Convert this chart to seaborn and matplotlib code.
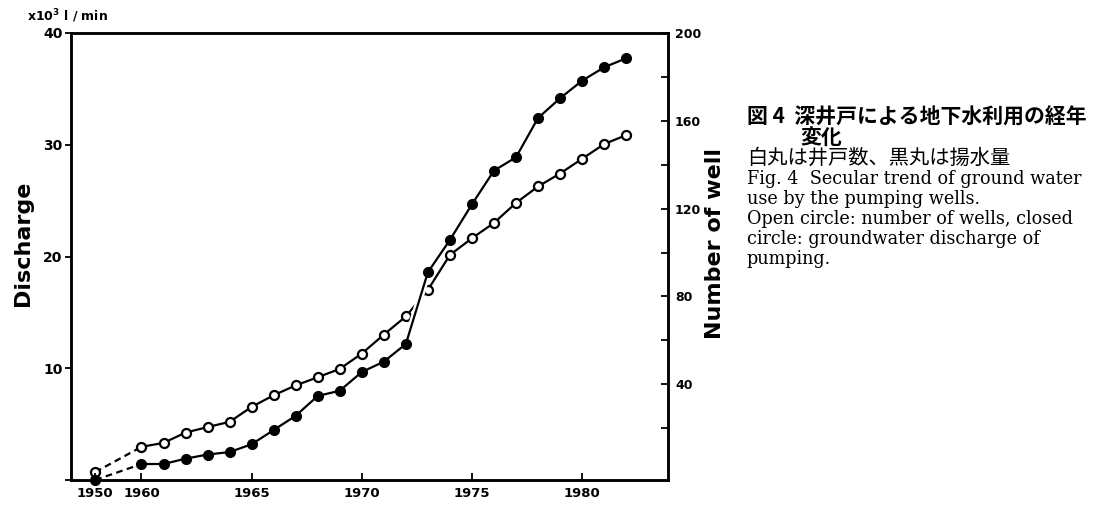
import numpy as np
import pandas as pd
import matplotlib
matplotlib.use("Agg")
import matplotlib.pyplot as plt
import matplotlib.patheffects as pe
from matplotlib.ticker import FixedLocator
import seaborn as sns

# data
years = [1950, 1960, 1961, 1962, 1963, 1964, 1965, 1966, 1967, 1968, 1969, 1970,
         1971, 1972, 1973, 1974, 1975, 1976, 1977, 1978, 1979, 1980, 1981, 1982]
# closed circles, x10^3 l/min (left axis)
discharge = [0, 1.43, 1.43, 1.91, 2.28, 2.5, 3.2, 4.47, 5.75, 7.52, 7.99, 9.66,
             10.59, 12.17, 18.59, 21.48, 24.67, 27.68, 28.88, 32.39, 34.16, 35.73, 36.93, 37.74]
# open circles, number of wells (right axis)
wells = [0, 11.5, 13.3, 18.0, 20.5, 22.9, 29.7, 35, 39.5, 43.2, 47, 54,
         62.6, 70.9, 83, 98.9, 106.5, 113.5, 122.6, 130.1, 136, 142.7, 149.4, 153.5]
xticks = [1950, 1960, 1965, 1970, 1975, 1980]
caption_jp_title = "図 4  深井戸による地下水利用の経年"
caption_jp_title2 = "変化"
caption_jp = "白丸は井戸数、黒丸は揚水量"
caption_en = ["Fig. 4  Secular trend of ground water",
              "use by the pumping wells.",
              "Open circle: number of wells, closed",
              "circle: groundwater discharge of",
              "pumping."]

df = pd.DataFrame({"year": years, "discharge": discharge, "wells": wells})
early = df.iloc[:2]
late = df.iloc[1:]

sns.set_style("ticks")
plt.rcParams["font.family"] = ["DejaVu Sans"]
plt.rcParams["text.color"] = "black"
plt.rcParams["axes.labelcolor"] = "black"
plt.rcParams["xtick.color"] = "black"
plt.rcParams["ytick.color"] = "black"

# the 1950-1960 stretch of the time axis is squeezed in the original
K = 0.21
def fwd(x):
    x = np.asarray(x, dtype=float)
    return np.where(x < 1960, 1960 - (1960 - x) * K, x)
def inv(x):
    x = np.asarray(x, dtype=float)
    return np.where(x < 1960, 1960 - (1960 - x) / K, x)

fig = plt.figure(figsize=(11, 5.05), dpi=100)
ax = fig.add_axes([71 / 1100, 1 - 480 / 505, 597 / 1100, 447 / 505])
ax.set_xscale("function", functions=(fwd, inv))
ax2 = ax.twinx()

lw = 1.6
# number of wells (open circles) on right axis
sns.lineplot(data=early, x="year", y="wells", ax=ax2, color="black", lw=lw,
             linestyle=(0, (3, 2)), sort=False, errorbar=None)
sns.lineplot(data=late, x="year", y="wells", ax=ax2, color="black", lw=lw,
             sort=False, errorbar=None)
ax2.plot(df["year"], df["wells"], "o", ms=6.5, mfc="white", mec="black", mew=1.6,
         clip_on=False, zorder=5)

# discharge (closed circles) on left axis, drawn above the wells
sns.lineplot(data=early, x="year", y="discharge", ax=ax, color="black", lw=lw,
             linestyle=(0, (3, 2)), sort=False, errorbar=None)
sns.lineplot(data=late, x="year", y="discharge", ax=ax, color="black", lw=lw,
             sort=False, errorbar=None,
             path_effects=[pe.Stroke(linewidth=5, foreground="white"), pe.Normal()])
ax.plot(df["year"], df["discharge"], "o", ms=7, color="black", clip_on=False, zorder=5)
ax.set_zorder(ax2.get_zorder() + 1)
ax.patch.set_visible(False)

ax.set_xlim(inv(1956.8), 1983.9)
ax.set_ylim(0, 40)
ax2.set_ylim(-3.6, 200)

ax.set_xticks(xticks)
ax.set_xticklabels([str(t) for t in xticks], fontsize=9.5, fontweight="bold")
ax.xaxis.set_minor_locator(FixedLocator([]))
ax.tick_params(axis="x", direction="in", length=5, width=1.3, pad=5)
ax.set_yticks([0, 10, 20, 30, 40])
ax.set_yticklabels(["", "10", "20", "30", "40"], fontsize=10, fontweight="bold")
ax.tick_params(axis="y", direction="out", length=4, width=1.3, pad=2)

ax2.set_yticks([40, 80, 120, 160, 200])
ax2.set_yticklabels(["40", "80", "120", "160", "200"], fontsize=9, fontweight="bold")
ax2.yaxis.set_minor_locator(FixedLocator([20, 60, 100, 140, 180]))
ax2.tick_params(axis="y", which="both", direction="in", length=5, width=1.3, pad=5)

ax.set_xlabel("")
ax.set_ylabel("Discharge", fontsize=16, fontweight="bold")
ax.yaxis.set_label_coords(-0.064, 0.53)
ax2.set_ylabel("Number of well", fontsize=16, fontweight="bold")
ax2.yaxis.set_label_coords(1.062, 0.53)

for a in (ax, ax2):
    for s in a.spines.values():
        s.set_visible(True)
        s.set_linewidth(1.8)
        s.set_color("black")

fig.text(27 / 1100, 1 - 16 / 505, r"x10$^{\mathbf{3}}$ l / min", fontsize=9,
         fontweight="bold", va="center", ha="left")

jp = ["Noto Sans CJK JP", "DejaVu Sans"]
fig.text(747 / 1100, 1 - 117 / 505, caption_jp_title, family=jp, fontsize=15,
         fontweight="bold", va="center", ha="left")
fig.text(800 / 1100, 1 - 138 / 505, caption_jp_title2, family=jp, fontsize=15,
         fontweight="bold", va="center", ha="left")
fig.text(747 / 1100, 1 - 158 / 505, caption_jp, family=jp, fontsize=14.6,
         va="center", ha="left")
for i, line in enumerate(caption_en):
    fig.text(747 / 1100, 1 - (178.5 + 20.2 * i) / 505, line, family="DejaVu Serif",
             fontsize=12.7, va="center", ha="left")

fig.savefig("out.png", dpi=100)
